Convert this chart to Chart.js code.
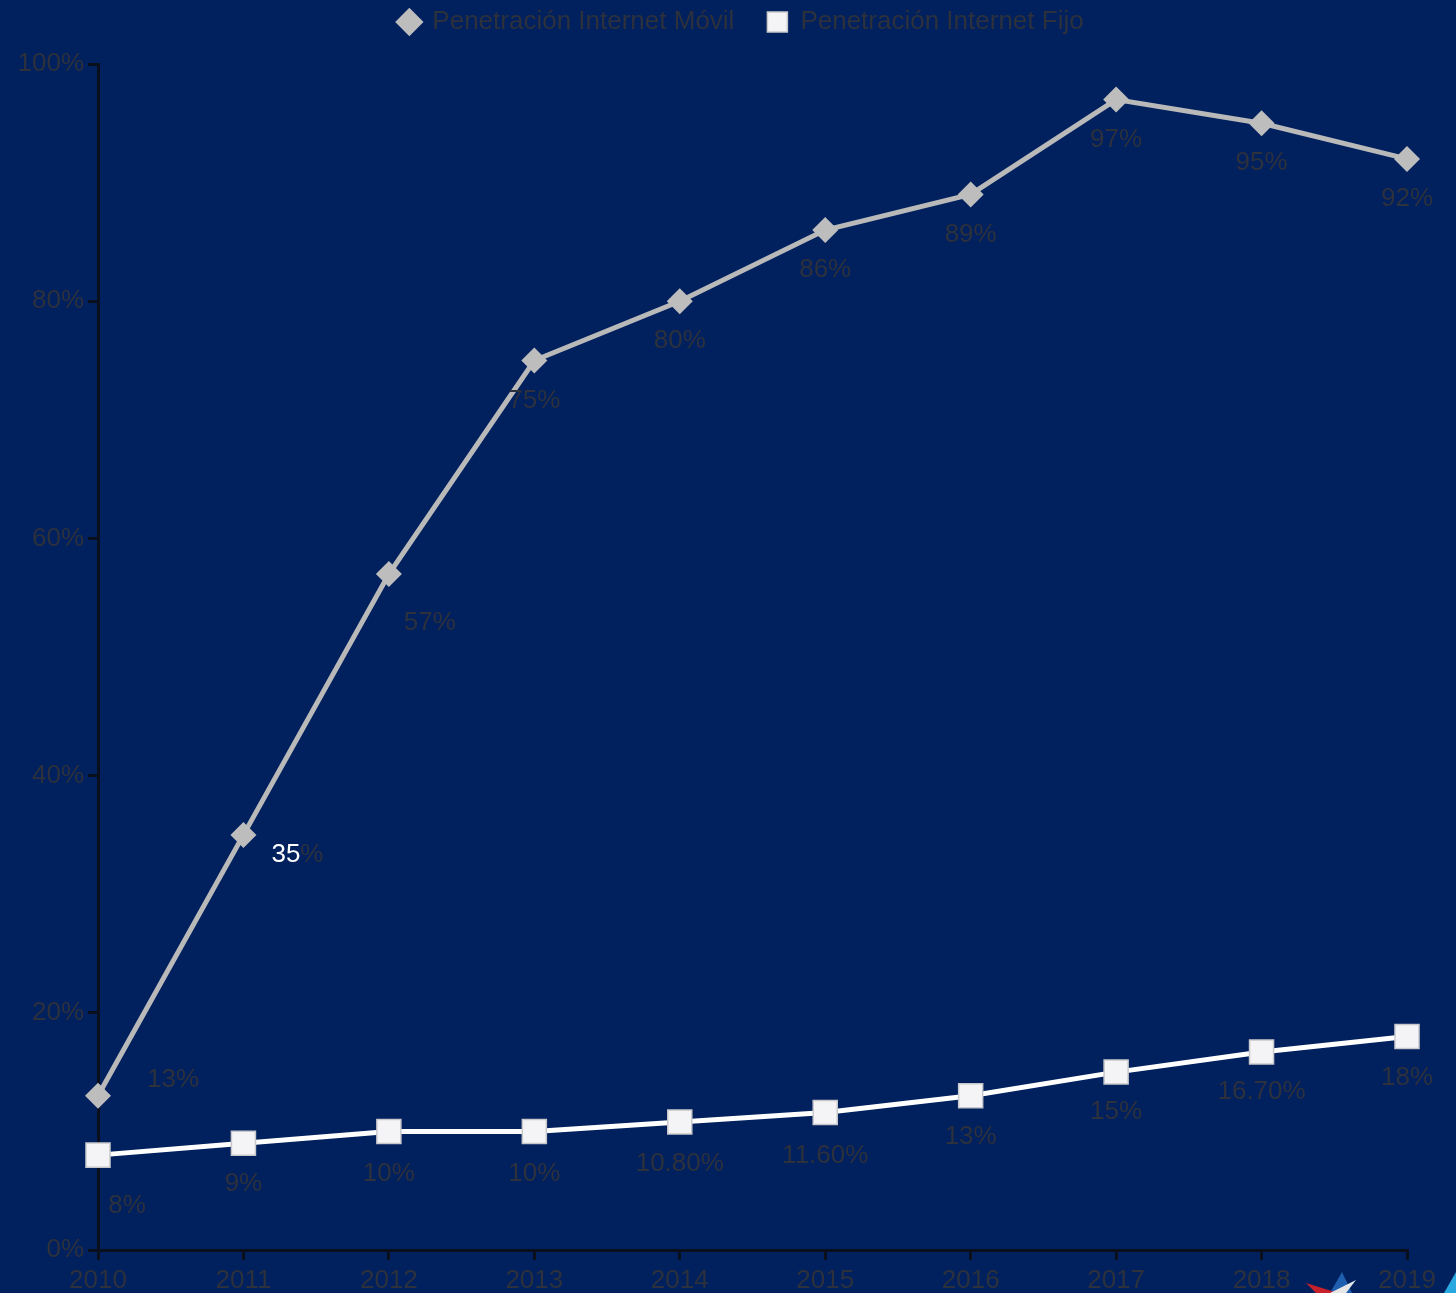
<!DOCTYPE html>
<html>
<head>
<meta charset="utf-8">
<script src="https://cdn.jsdelivr.net/npm/chart.js@4.4.1/dist/chart.umd.min.js"></script>
<style>
  html, body { margin: 0; padding: 0; background: #00205e; }
  #wrap { width: 1456px; height: 1293px; position: relative; }
</style>
</head>
<body>
<div id="wrap"><canvas id="chart"></canvas></div>
<script>
/* ---------- 데이터 ---------- */
const years       = ['2010', '2011', '2012', '2013', '2014', '2015', '2016', '2017', '2018', '2019'];
const movil       = [13, 35, 57, 75, 80, 86, 89, 97, 95, 92];
const fijo        = [8, 9, 10, 10, 10.8, 11.6, 13, 15, 16.7, 18];
const movilLabels = ['13%', '35%', '57%', '75%', '80%', '86%', '89%', '97%', '95%', '92%'];
const fijoLabels  = ['8%', '9%', '10%', '10%', '10.80%', '11.60%', '13%', '15%', '16.70%', '18%'];
const yTicks      = [0, 20, 40, 60, 80, 100];

/* ---------- 스타일 ---------- */
const BG      = '#00205e';
const TXT     = '#2c313c';
const AXIS    = '#0a0f1e';
const GRAY    = '#b9b9b9';
const FONT    = "'Liberation Sans', Arial, sans-serif";

// 라벨 오프셋 (점 기준, px)
const movilOff = [[75, -16], [54, 20], [41, 49], [0, 40], [0, 40], [0, 40], [0, 40], [0, 40], [0, 40], [0, 40]];
const fijoOff  = [[29, 51], [0, 41], [0, 42], [0, 42], [0, 42], [0, 43], [0, 41], [0, 40], [0, 40], [0, 41]];

const bgPlugin = {
  id: 'bg',
  beforeDraw(chart) {
    const { ctx, width, height } = chart;
    ctx.save();
    ctx.fillStyle = BG;
    ctx.fillRect(0, 0, width, height);
    ctx.restore();
  }
};

// 범례 높이/위치 조정
const legendGap = {
  id: 'legendGap',
  beforeLayout(chart) {
    const lg = chart.legend;
    if (lg && !lg._patched) {
      const orig = lg.fit;
      lg.fit = function () { orig.call(this); this.height += 19; };
      lg._patched = true;
    }
  },
  afterLayout(chart) {
    const lg = chart.legend;
    if (lg) { lg.left += 38; lg.right += 38; }
  }
};

const valueLabels = {
  id: 'valueLabels',
  afterDatasetsDraw(chart) {
    const { ctx } = chart;
    ctx.save();
    ctx.font = `26px ${FONT}`;
    ctx.textAlign = 'center';
    ctx.textBaseline = 'middle';
    [[0, movilLabels, movilOff], [1, fijoLabels, fijoOff]].forEach(([di, labels, off]) => {
      const meta = chart.getDatasetMeta(di);
      meta.data.forEach((pt, i) => {
        const x = pt.x + off[i][0];
        const y = pt.y + off[i][1];
        if (di === 0 && i === 1) {
          // "35" 흰색 + "%" 어두운 색
          const w1 = ctx.measureText('35').width;
          const w2 = ctx.measureText('%').width;
          const left = x - (w1 + w2) / 2;
          ctx.textAlign = 'left';
          ctx.fillStyle = '#ffffff';
          ctx.fillText('35', left, y);
          ctx.fillStyle = TXT;
          ctx.fillText('%', left + w1, y);
          ctx.textAlign = 'center';
        } else {
          ctx.fillStyle = TXT;
          ctx.fillText(labels[i], x, y);
        }
      });
    });
    ctx.restore();
  }
};

// 우측 하단 로고 조각
const logo = {
  id: 'logo',
  afterDraw(chart) {
    const { ctx } = chart;
    const poly = (pts, c) => {
      ctx.beginPath();
      ctx.moveTo(pts[0][0], pts[0][1]);
      pts.slice(1).forEach(p => ctx.lineTo(p[0], p[1]));
      ctx.closePath();
      ctx.fillStyle = c;
      ctx.fill();
    };
    ctx.save();
    poly([[1330, 1293], [1342, 1272], [1352, 1293]], '#1f5fb0');
    poly([[1306, 1283], [1338, 1293], [1316, 1293]], '#c8202a');
    poly([[1330, 1293], [1356, 1280], [1346, 1293]], '#e6e6e6');
    poly([[1444, 1293], [1456, 1272], [1456, 1293]], '#29a8e0');
    ctx.restore();
  }
};

new Chart(document.getElementById('chart'), {
  type: 'line',
  data: {
    labels: years,
    datasets: [
      {
        label: 'Penetración Internet Móvil',
        data: movil,
        borderColor: GRAY,
        backgroundColor: GRAY,
        borderWidth: 5,
        pointStyle: 'rectRot',
        pointRadius: 13,
        pointBorderWidth: 0,
        pointBackgroundColor: '#bdbdbd',
        tension: 0,
      },
      {
        label: 'Penetración Internet Fijo',
        data: fijo,
        borderColor: '#ffffff',
        backgroundColor: '#f4f4f6',
        borderWidth: 5,
        pointStyle: 'rect',
        pointRadius: 17,
        pointBorderWidth: 1.5,
        pointBorderColor: '#c8c8cc',
        pointBackgroundColor: '#f4f4f6',
        tension: 0,
      }
    ]
  },
  options: {
    responsive: true,
    maintainAspectRatio: false,
    animation: false,
    layout: { padding: { top: -24, left: 0, right: 49, bottom: 0 } },
    plugins: {
      legend: {
        position: 'top',
        labels: {
          usePointStyle: true,
          boxWidth: 20,
          boxHeight: 20,
          padding: 33,
          color: TXT,
          font: { size: 26, family: FONT },
        }
      },
      tooltip: { enabled: false },
    },
    scales: {
      x: {
        offset: false,
        afterFit: s => { s.height = 43; },
        ticks: { color: TXT, font: { size: 26, family: FONT }, padding: 5, maxRotation: 0 },
        grid: { drawOnChartArea: false, color: AXIS, lineWidth: 3, tickLength: 10 },
        border: { color: AXIS, width: 3 },
      },
      y: {
        min: 0,
        max: 100,
        afterFit: s => { s.width = 98; },
        afterBuildTicks: s => { s.ticks = yTicks.map(v => ({ value: v })); },
        ticks: { color: TXT, font: { size: 26, family: FONT }, padding: 4, callback: v => v + '%' },
        grid: { drawOnChartArea: false, color: AXIS, lineWidth: 3, tickLength: 10 },
        border: { color: AXIS, width: 3 },
      }
    }
  },
  plugins: [bgPlugin, legendGap, valueLabels, logo]
});
</script>
</body>
</html>
